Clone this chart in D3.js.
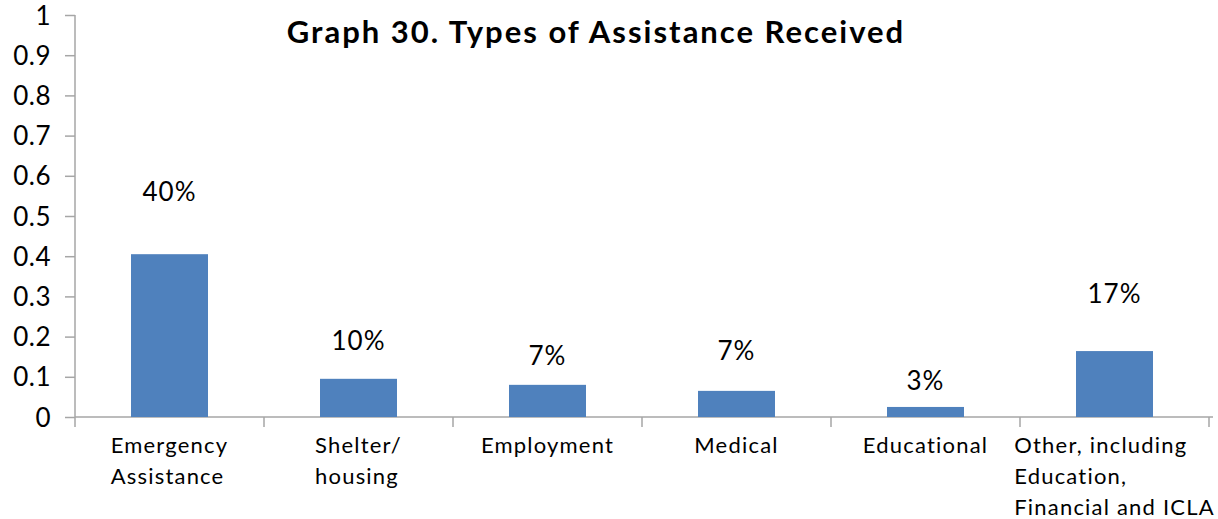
<!DOCTYPE html>
<html><head><meta charset="utf-8">
<script src="https://cdn.jsdelivr.net/npm/d3@7"></script>
<style>body{margin:0;background:#fff}svg{display:block}</style>
</head><body>
<svg id="c" width="1218" height="519"></svg>
<script>
const categories = [["Emergency","Assistance"],["Shelter/","housing"],["Employment"],["Medical"],["Educational"],["Other, including","Education,","Financial and ICLA"]];
const values = [0.405, 0.095, 0.08, 0.065, 0.025, 0.164];
const labels = ["40%","10%","7%","7%","3%","17%"];
const labelAt = [0.537, 0.167, 0.129, 0.142, 0.067, 0.284];
const yTicks = [0,0.1,0.2,0.3,0.4,0.5,0.6,0.7,0.8,0.9,1];
const title = "Graph 30. Types of Assistance Received";

const svg = d3.select("#c");
const font = "Lato, 'Open Sans', sans-serif";
const x = d3.scaleBand().domain(d3.range(categories.length)).range([75,1209]).paddingInner(0).paddingOuter(0);
const y = d3.scaleLinear().domain([0,1]).range([417,15]);
const axisColor = "#a6a6a6";

// y axis
const ya = svg.append("g").attr("transform","translate(75,0)")
  .call(d3.axisLeft(y).tickValues(yTicks).tickSize(10).tickPadding(14).tickFormat(d=>d3.format("")(+d.toFixed(1))));
ya.select(".domain").attr("stroke",axisColor).attr("stroke-width",1.5).attr("d","M0,15V417");
ya.selectAll(".tick line").attr("stroke",axisColor).attr("stroke-width",1.5);
ya.selectAll(".tick text").attr("font-family",font).attr("font-size",26).attr("fill","#000").attr("dy","0.35em").attr("letter-spacing",0.5);

// x axis line and boundary ticks
svg.append("line").attr("x1",75).attr("x2",1213).attr("y1",y(0)).attr("y2",y(0)).attr("stroke",axisColor).attr("stroke-width",1.5);
const bounds = d3.range(categories.length+1).map(i=> i<categories.length ? x(i) : x(i-1)+x.bandwidth());
svg.selectAll(".xt").data(bounds).join("line").attr("x1",d=>d).attr("x2",d=>d).attr("y1",y(0)).attr("y2",y(0)+10).attr("stroke",axisColor).attr("stroke-width",1.5);

// bars
const bw = 77;
svg.selectAll(".bar").data(values).join("rect")
  .attr("x",(d,i)=>x(i)+x.bandwidth()/2-bw/2).attr("width",bw)
  .attr("y",d=>y(d)).attr("height",d=>y(0)-y(d)).attr("fill","#4f81bd");

// value labels
svg.selectAll(".vl").data(labels).join("text")
  .attr("x",(d,i)=>x(i)+x.bandwidth()/2).attr("y",(d,i)=>y(labelAt[i]))
  .attr("text-anchor","middle").attr("font-family",font).attr("font-size",26).attr("letter-spacing",1).attr("fill","#000").text(d=>d);

// category labels
categories.forEach((lines,i)=>{
  const g = svg.append("g");
  const ts = lines.map((l,j)=>g.append("text").attr("font-family",font).attr("font-size",22).attr("letter-spacing",1.2).attr("fill","#000")
    .attr("y",453+j*31).text(l));
  const w = d3.max(ts, t=>t.node().getComputedTextLength());
  const cx = x(i)+x.bandwidth()/2;
  ts.forEach(t=>t.attr("x",cx-w/2));
});

// title
svg.append("text").attr("x",596).attr("y",43).attr("text-anchor","middle")
  .attr("font-family",font).attr("font-weight","bold").attr("font-size",31).attr("letter-spacing",2).attr("fill","#000").text(title);
</script>
</body></html>
